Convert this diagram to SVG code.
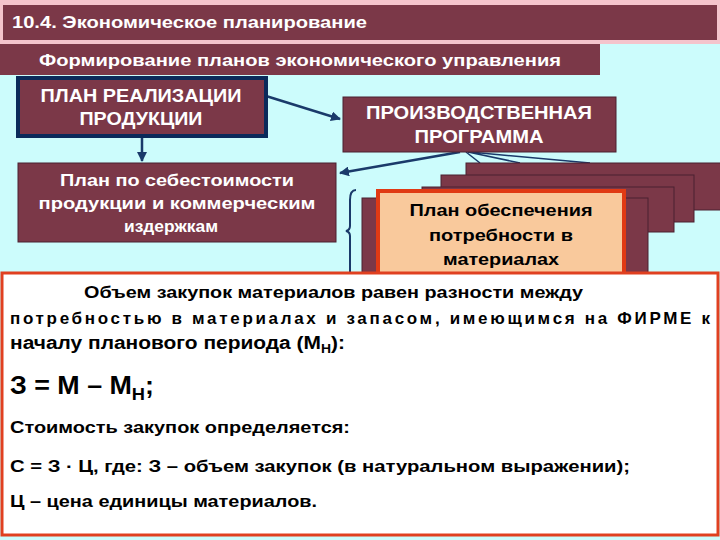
<svg xmlns="http://www.w3.org/2000/svg" width="720" height="540" viewBox="0 0 720 540">
<defs>
<style>
.b{fill:#7b3848;stroke:#4a2030;stroke-width:1}
.w{fill:#fff;font-family:"Liberation Sans",Arial,sans-serif;font-weight:bold;text-anchor:middle}
.k{fill:#000;font-family:"Liberation Sans",Arial,sans-serif;font-weight:bold}
.c{stroke:#1a3a6a;stroke-width:2.5;fill:none}
</style>
<marker id="a" viewBox="0 0 10 10" refX="9" refY="5" markerWidth="4" markerHeight="4" orient="auto"><path d="M0,0L10,5L0,10z" fill="#1a3a6a"/></marker>
</defs>
<rect width="720" height="540" fill="#ccfcfc"/>
<g id="title"><rect x="0" y="0" width="720" height="44" fill="#f4c4cc"/><rect x="3" y="5" width="714" height="35" fill="#7b3848"/><text x="12" y="28" class="w" style="text-anchor:start;font-size:17px" textLength="355" lengthAdjust="spacingAndGlyphs">10.4. Экономическое планирование</text></g>
<g id="subtitle"><rect x="0" y="44" width="600" height="31" fill="#7b3848"/><text x="39" y="66" class="w" style="text-anchor:start" font-size="17" textLength="522" lengthAdjust="spacingAndGlyphs">Формирование  планов экономического управления</text></g>
<g id="connectors">
<line x1="266" y1="96" x2="340" y2="119" class="c" marker-end="url(#a)"/>
<line x1="142" y1="137" x2="142" y2="161" class="c" marker-end="url(#a)"/>
<line x1="460" y1="152" x2="340" y2="173" class="c" marker-end="url(#a)"/>
<path d="M466,152L480,163M468,152L520,163M470,152L590,163" stroke="#1a3a6a" stroke-width="1.5" fill="none"/>
<path d="M356,190Q350,190 350,200L350,226Q350,230 346,231Q350,232 350,236L350,280" stroke="#1a3a6a" stroke-width="2" fill="none"/>
</g>
<g id="realization"><rect x="18" y="78" width="248" height="58" fill="#7b3848" stroke="#0a2a5a" stroke-width="4"/><text x="141" y="102" class="w" font-size="18" textLength="201" lengthAdjust="spacingAndGlyphs">ПЛАН РЕАЛИЗАЦИИ</text><text x="141" y="125" class="w" font-size="18" textLength="123" lengthAdjust="spacingAndGlyphs">ПРОДУКЦИИ</text></g>
<g id="production"><rect x="343" y="97" width="273" height="55" class="b"/><text x="479" y="119" class="w" font-size="18" textLength="226" lengthAdjust="spacingAndGlyphs">ПРОИЗВОДСТВЕННАЯ</text><text x="479" y="143" class="w" font-size="18" textLength="129" lengthAdjust="spacingAndGlyphs">ПРОГРАММА</text></g>
<g id="cost"><rect x="18" y="163" width="318" height="79" class="b"/><text x="177" y="186" class="w" font-size="17" textLength="234" lengthAdjust="spacingAndGlyphs">План по себестоимости</text><text x="177" y="209" class="w" font-size="17" textLength="277" lengthAdjust="spacingAndGlyphs">продукции и коммерческим</text><text x="171" y="232" class="w" font-size="17" textLength="94" lengthAdjust="spacingAndGlyphs">издержкам</text></g>
<g id="stack">
<rect x="466" y="163" width="256" height="47" class="b" stroke="#fff"/>
<rect x="441" y="175" width="253" height="47" class="b" stroke="#fff"/>
<rect x="422" y="187" width="252" height="45" class="b" stroke="#fff"/>
<rect x="362" y="198" width="286" height="82" class="b" stroke="#fff"/>
</g>
<g id="materials"><rect x="378" y="191" width="246" height="84" fill="#f9c99c" stroke="#e03a14" stroke-width="4"/><text x="501" y="216" class="k" font-size="17" text-anchor="middle" textLength="183" lengthAdjust="spacingAndGlyphs">План обеспечения</text><text x="501" y="241" class="k" font-size="17" text-anchor="middle" textLength="144" lengthAdjust="spacingAndGlyphs">потребности в</text><text x="501" y="265" class="k" font-size="17" text-anchor="middle" textLength="116" lengthAdjust="spacingAndGlyphs">материалах</text></g>
<g id="panel"><rect x="2" y="273" width="716" height="262" fill="#fff" stroke="#e04020" stroke-width="3"/>
<text x="84" y="298" class="k" font-size="17" textLength="499" lengthAdjust="spacingAndGlyphs">Объем закупок материалов равен разности между</text>
<text x="10" y="324" class="k" font-size="17" textLength="700" lengthAdjust="spacing">потребностью в материалах и запасом, имеющимся на ФИРМЕ к</text>
<text x="10" y="349" class="k" font-size="18" textLength="335" lengthAdjust="spacingAndGlyphs">началу планового периода (М<tspan font-size="12" dy="4">Н</tspan><tspan dy="-4">):</tspan></text>
<text x="10" y="394" class="k" font-size="25" textLength="144" lengthAdjust="spacingAndGlyphs">З = М – М<tspan font-size="17" dy="6">Н</tspan><tspan dy="-6">;</tspan></text>
<text x="10" y="433" class="k" font-size="17" textLength="340" lengthAdjust="spacingAndGlyphs">Стоимость закупок определяется:</text>
<text x="10" y="472" class="k" font-size="17" textLength="620" lengthAdjust="spacingAndGlyphs">С = З · Ц,  где:  З – объем закупок (в натуральном выражении);</text>
<text x="10" y="507" class="k" font-size="17" textLength="307" lengthAdjust="spacingAndGlyphs">Ц – цена единицы материалов.</text>
</g>
</svg>
